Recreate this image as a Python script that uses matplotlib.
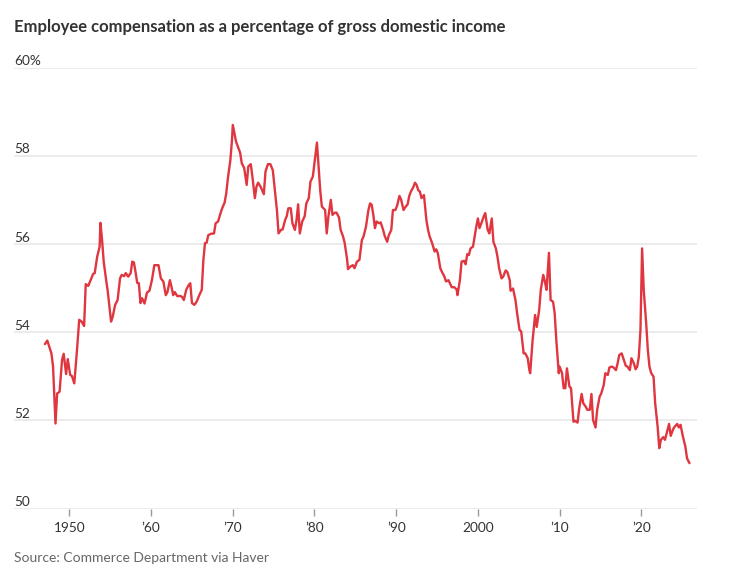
import matplotlib
matplotlib.use("Agg")
import matplotlib.pyplot as plt
import matplotlib.transforms as mtransforms
from matplotlib import font_manager

# ---------------- data ----------------
years = [
    1947.0, 1947.3, 1947.8, 1948.0, 1948.3, 1948.5, 1948.8, 1949.1, 1949.3, 1949.6,
    1949.8, 1950.1, 1950.3, 1950.6, 1950.9, 1951.2, 1951.5, 1951.8, 1952.0, 1952.3,
    1952.6, 1952.9, 1953.1, 1953.4, 1953.7, 1953.8, 1954.0, 1954.2, 1954.5, 1954.7,
    1955.1, 1955.3, 1955.6, 1955.9, 1956.2, 1956.4, 1956.7, 1956.9, 1957.2, 1957.5,
    1957.7, 1957.9, 1958.1, 1958.3, 1958.5, 1958.7, 1958.9, 1959.2, 1959.5, 1959.8,
    1960.1, 1960.4, 1960.9, 1961.2, 1961.5, 1961.8, 1962.0, 1962.3, 1962.5, 1962.7,
    1962.9, 1963.2, 1963.6, 1963.8, 1964.0, 1964.3, 1964.6, 1964.8, 1965.0, 1965.3,
    1965.6, 1965.9, 1966.2, 1966.4, 1966.6, 1966.8, 1967.0, 1967.3, 1967.7, 1967.9,
    1968.2, 1968.5, 1968.7, 1969.0, 1969.2, 1969.4, 1969.7, 1969.9, 1970.0, 1970.2,
    1970.4, 1970.7, 1970.9, 1971.1, 1971.4, 1971.7, 1971.9, 1972.2, 1972.4, 1972.7,
    1972.9, 1973.1, 1973.4, 1973.8, 1974.0, 1974.3, 1974.6, 1974.9, 1975.1, 1975.4,
    1975.6, 1975.9, 1976.1, 1976.4, 1976.6, 1976.8, 1977.1, 1977.3, 1977.6, 1977.8,
    1978.0, 1978.2, 1978.5, 1978.8, 1979.0, 1979.3, 1979.5, 1979.8, 1980.0, 1980.3,
    1980.5, 1980.7, 1980.9, 1981.2, 1981.3, 1981.5, 1981.7, 1982.0, 1982.2, 1982.5,
    1982.7, 1983.0, 1983.2, 1983.5, 1983.7, 1984.0, 1984.1, 1984.4, 1984.7, 1984.9,
    1985.2, 1985.5, 1985.8, 1986.0, 1986.3, 1986.6, 1986.8, 1987.0, 1987.2, 1987.4,
    1987.6, 1987.9, 1988.1, 1988.4, 1988.6, 1988.9, 1989.1, 1989.4, 1989.6, 1989.9,
    1990.1, 1990.4, 1990.6, 1990.9, 1991.1, 1991.4, 1991.6, 1991.8, 1992.1, 1992.3,
    1992.5, 1992.7, 1992.9, 1993.1, 1993.4, 1993.7, 1993.9, 1994.1, 1994.4, 1994.7,
    1994.9, 1995.1, 1995.4, 1995.6, 1995.9, 1996.1, 1996.4, 1996.6, 1996.8, 1997.1,
    1997.4, 1997.5, 1997.8, 1998.0, 1998.3, 1998.5, 1998.7, 1998.9, 1999.1, 1999.4,
    1999.6, 1999.8, 2000.0, 2000.2, 2000.5, 2000.7, 2000.9, 2001.2, 2001.4, 2001.7,
    2001.9, 2002.2, 2002.4, 2002.6, 2002.9, 2003.1, 2003.4, 2003.6, 2003.9, 2004.0,
    2004.3, 2004.6, 2004.8, 2005.1, 2005.3, 2005.6, 2005.8, 2006.1, 2006.3, 2006.4,
    2006.7, 2007.0, 2007.2, 2007.5, 2007.7, 2008.0, 2008.2, 2008.4, 2008.7, 2008.9,
    2009.2, 2009.4, 2009.6, 2009.9, 2010.0, 2010.3, 2010.5, 2010.7, 2010.9, 2011.2,
    2011.4, 2011.7, 2011.9, 2012.2, 2012.4, 2012.7, 2012.9, 2013.2, 2013.4, 2013.7,
    2013.9, 2014.1, 2014.4, 2014.6, 2014.9, 2015.1, 2015.4, 2015.6, 2015.9, 2016.1,
    2016.4, 2016.6, 2016.9, 2017.1, 2017.3, 2017.6, 2017.8, 2018.1, 2018.3, 2018.6,
    2018.8, 2019.1, 2019.3, 2019.5, 2019.7, 2019.9, 2020.0, 2020.1, 2020.3, 2020.6,
    2020.8, 2021.0, 2021.2, 2021.5, 2021.7, 2022.0, 2022.2, 2022.4, 2022.7, 2022.9,
    2023.2, 2023.4, 2023.6, 2023.9, 2024.1, 2024.4, 2024.6, 2024.8, 2025.1, 2025.4,
    2025.6, 2025.9,
]
comp_share = [
    53.73, 53.81, 53.52, 53.22, 51.93, 52.61, 52.65, 53.37, 53.51, 53.05,
    53.39, 53.03, 53.01, 52.84, 53.52, 54.28, 54.24, 54.14, 55.09, 55.05,
    55.18, 55.32, 55.34, 55.71, 55.94, 56.48, 56.09, 55.60, 55.18, 54.92,
    54.24, 54.35, 54.62, 54.73, 55.22, 55.30, 55.27, 55.34, 55.26, 55.34,
    55.60, 55.58, 55.36, 55.12, 55.11, 54.66, 54.77, 54.65, 54.90, 54.94,
    55.18, 55.52, 55.52, 55.22, 55.15, 54.84, 54.91, 55.18, 55.03, 54.84,
    54.91, 54.82, 54.82, 54.80, 54.73, 54.96, 55.07, 55.11, 54.66, 54.62,
    54.70, 54.84, 54.96, 55.64, 56.02, 56.03, 56.20, 56.23, 56.24, 56.47,
    56.51, 56.70, 56.81, 56.94, 57.15, 57.49, 57.90, 58.35, 58.70, 58.51,
    58.32, 58.17, 58.07, 57.83, 57.72, 57.34, 57.76, 57.81, 57.53, 57.04,
    57.30, 57.39, 57.30, 57.13, 57.64, 57.81, 57.81, 57.67, 57.30, 56.77,
    56.24, 56.32, 56.33, 56.54, 56.63, 56.81, 56.81, 56.47, 56.32, 56.54,
    56.90, 56.24, 56.51, 56.63, 56.92, 57.04, 57.41, 57.53, 57.83, 58.30,
    57.75, 57.22, 56.85, 56.79, 56.77, 56.24, 56.62, 57.00, 56.66, 56.71,
    56.71, 56.60, 56.32, 56.17, 56.02, 55.64, 55.43, 55.49, 55.52, 55.45,
    55.60, 55.64, 56.09, 56.17, 56.39, 56.77, 56.92, 56.89, 56.66, 56.36,
    56.51, 56.47, 56.49, 56.32, 56.18, 56.05, 56.20, 56.32, 56.77, 56.77,
    56.86, 57.09, 57.01, 56.77, 56.83, 56.90, 57.09, 57.19, 57.29, 57.39,
    57.34, 57.22, 57.19, 57.04, 57.11, 56.54, 56.32, 56.17, 56.02, 55.83,
    55.88, 55.79, 55.45, 55.37, 55.26, 55.15, 55.18, 55.10, 55.02, 55.02,
    54.97, 54.84, 55.18, 55.60, 55.62, 55.54, 55.77, 55.75, 55.90, 55.94,
    56.17, 56.39, 56.58, 56.36, 56.51, 56.62, 56.70, 56.32, 56.24, 56.58,
    56.05, 55.90, 55.71, 55.45, 55.22, 55.26, 55.40, 55.37, 55.18, 54.94,
    54.99, 54.73, 54.43, 54.05, 54.02, 53.52, 53.52, 53.41, 53.14, 53.07,
    53.82, 54.39, 54.12, 54.50, 54.96, 55.30, 55.15, 54.96, 55.80, 54.73,
    54.69, 54.43, 53.82, 53.07, 53.22, 53.07, 52.73, 52.73, 53.18, 52.77,
    52.73, 51.97, 51.99, 51.95, 52.27, 52.60, 52.39, 52.31, 52.24, 52.24,
    52.60, 52.01, 51.84, 52.24, 52.54, 52.61, 52.80, 53.07, 53.03, 53.20,
    53.22, 53.20, 53.14, 53.29, 53.48, 53.52, 53.41, 53.24, 53.22, 53.14,
    53.41, 53.29, 53.16, 53.22, 53.44, 54.05, 54.96, 55.90, 54.96, 54.20,
    53.60, 53.22, 53.08, 52.99, 52.39, 51.86, 51.37, 51.56, 51.62, 51.56,
    51.78, 51.92, 51.65, 51.80, 51.86, 51.92, 51.84, 51.90, 51.63, 51.40,
    51.14, 51.03,
]

x_tick_years = [1950, 1960, 1970, 1980, 1990, 2000, 2010, 2020]
x_tick_labels = ["1950", "\u201960", "\u201970", "\u201980", "\u201990", "2000", "\u201910", "\u201920"]
y_tick_values = [50, 52, 54, 56, 58, 60]
y_tick_labels = ["50", "52", "54", "56", "58", "60%"]

title = "Employee compensation as a percentage of gross domestic income"
source = "Source: Commerce Department via Haver"

# ---------------- styling ----------------
W, H = 729, 583
available = {f.name for f in font_manager.fontManager.ttflist}
family = "Lato" if "Lato" in available else "DejaVu Sans"
plt.rcParams["font.family"] = [family, "DejaVu Sans"]

fig = plt.figure(figsize=(W / 100, H / 100), dpi=100)
fig.patch.set_facecolor("white")

left_px, right_px = 14, 697
top_px, bottom_px = 67.6, 508.6
ax = fig.add_axes([left_px / W, 1 - bottom_px / H,
                   (right_px - left_px) / W, (bottom_px - top_px) / H])
ax.set_facecolor("white")

for v in y_tick_values:
    ax.axhline(v, color="#e6e6e6", lw=1.1, zorder=1)

ax.plot(years, comp_share, color="#e0363f", lw=1.7, zorder=3,
        solid_joinstyle="round", solid_capstyle="round")

ax.set_xlim(1943.22, 2026.82)
ax.set_ylim(50, 60)
for s in ax.spines.values():
    s.set_visible(False)

ax.set_yticks([])
ax.set_xticks(x_tick_years)
ax.set_xticklabels(x_tick_labels)
ax.tick_params(axis="x", direction="out", length=5, width=1, color="#9a9a9a",
               pad=5, labelsize=9.8, labelcolor="#333333")

label_tr = mtransforms.offset_copy(ax.get_yaxis_transform(), fig=fig, x=0, y=2.5, units="dots")
for v, lab in zip(y_tick_values, y_tick_labels):
    ax.text(0, v, lab, transform=label_tr, ha="left", va="baseline",
            fontsize=9.8, color="#333333")

t_title = fig.text(left_px / W, 1 - 32.3 / H, title, ha="left", va="baseline",
                   fontsize=12, fontweight="bold", color="#333333")
t_src = fig.text(left_px / W, 1 - 562.5 / H, source, ha="left", va="baseline",
                 fontsize=10.8, color="#666666")

# fit text widths to the reference
fig.canvas.draw()
r = fig.canvas.get_renderer()
for t, target in [(t_title, 489), (t_src, 255)]:
    w = t.get_window_extent(r).width
    if w > 0:
        t.set_fontsize(t.get_fontsize() * target / w)

fig.savefig("out.png", dpi=100, facecolor="white")
